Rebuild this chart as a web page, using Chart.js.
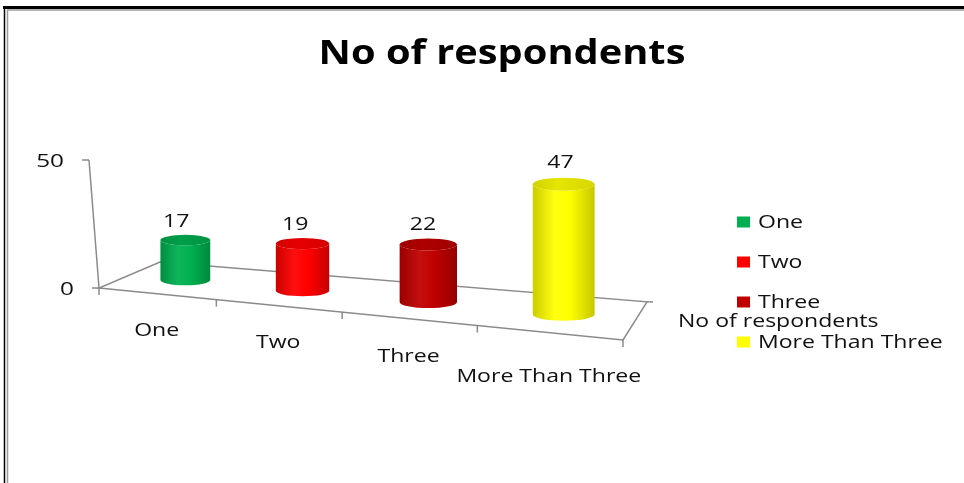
<!DOCTYPE html>
<html>
<head>
<meta charset="utf-8">
<script src="https://cdn.jsdelivr.net/npm/chart.js@4/dist/chart.umd.min.js"></script>
<style>
  html, body { margin: 0; padding: 0; background: #fff; }
  canvas { display: block; }
</style>
</head>
<body>
<canvas id="chart" width="964" height="483"></canvas>
<script>
// chart data
var categories = ['One', 'Two', 'Three', 'More Than Three'];
var respondents = [17, 19, 22, 47];
var barColors = ['#00B050', '#FF0000', '#C00000', '#FFFF00'];
var yTicks = [0, 50];
var seriesName = 'No of respondents';
var chartTitle = 'No of respondents';

// 3d look of the floor (pixels)
var FRONT_SLOPE = 0.099;
var DEPTH_LEFT = {x: 61, y: -26};
var DEPTH_RIGHT = {x: 24, y: -38};
var PERSPECTIVE = 1.155;
var AXIS_LEAN = 10;
var TEXT_STRETCH = 1.28;
var FONT = '"Open Sans", "Liberation Sans", sans-serif';
var TEXT_COLOR = '#111';
var LINE_COLOR = '#8a8a8a';

function persp(t) {
  return t / (PERSPECTIVE - (PERSPECTIVE - 1) * t);
}

function shade(hex, f) {
  var n = parseInt(hex.slice(1), 16);
  var c = [(n >> 16) & 255, (n >> 8) & 255, n & 255].map(function(v) {
    v = f <= 1 ? v * f : v + (255 - v) * (f - 1);
    return Math.max(0, Math.min(255, Math.round(v)));
  });
  return 'rgb(' + c.join(',') + ')';
}

// stretched text, y is the middle of the capitals
function label(ctx, str, x, y, size, weight, align, color, stretch) {
  ctx.save();
  ctx.font = weight + ' ' + size + 'px ' + FONT;
  ctx.fillStyle = color || TEXT_COLOR;
  ctx.textAlign = align;
  ctx.textBaseline = 'alphabetic';
  ctx.translate(x, y + size * 0.357);
  ctx.scale(stretch || TEXT_STRETCH, 1);
  ctx.fillText(str, 0, 0);
  ctx.restore();
}

function textWidth(ctx, str, size, weight) {
  ctx.save();
  ctx.font = weight + ' ' + size + 'px ' + FONT;
  var w = ctx.measureText(str).width * TEXT_STRETCH;
  ctx.restore();
  return w;
}

function line(ctx, x1, y1, x2, y2) {
  ctx.beginPath();
  ctx.moveTo(x1, y1);
  ctx.lineTo(x2, y2);
  ctx.stroke();
}

function floorGeometry(chart) {
  var a = chart.chartArea;
  var zero = chart.scales.y.getPixelForValue(0);
  var W = a.right - a.left;
  var FL = {x: a.left, y: zero};
  var FR = {x: a.right, y: zero + W * FRONT_SLOPE};
  var BL = {x: FL.x + DEPTH_LEFT.x, y: FL.y + DEPTH_LEFT.y};
  var BR = {x: FR.x + DEPTH_RIGHT.x, y: FR.y + DEPTH_RIGHT.y};
  function at(px, d) {
    var g = persp((px - a.left) / W);
    var fx = FL.x + (FR.x - FL.x) * g, fy = FL.y + (FR.y - FL.y) * g;
    var bx = BL.x + (BR.x - BL.x) * g, by = BL.y + (BR.y - BL.y) * g;
    return {x: fx + (bx - fx) * d, y: fy + (by - fy) * d, g: g};
  }
  return {FL: FL, FR: FR, BL: BL, BR: BR, at: at, zero: zero};
}

var cylinderPlugin = {
  id: 'cylinders',
  beforeDraw: function(chart) {
    var ctx = chart.ctx;
    ctx.save();
    ctx.fillStyle = '#fff';
    ctx.fillRect(0, 0, chart.width, chart.height);
    // frame
    ctx.strokeStyle = '#000';
    ctx.lineWidth = 3;
    line(ctx, 3, 7.5, chart.width, 7.5);
    ctx.lineWidth = 1.5;
    line(ctx, 4.5, 6, 4.5, chart.height);
    ctx.strokeStyle = '#9a9a9a';
    line(ctx, 7.5, 9.5, 7.5, chart.height);
    line(ctx, 7.5, 10, chart.width, 10);
    ctx.restore();
  },
  beforeDatasetsDraw: function(chart) {
    var ctx = chart.ctx;
    var xs = chart.scales.x, ys = chart.scales.y;
    var geo = floorGeometry(chart);
    var top = ys.getPixelForValue(yTicks[yTicks.length - 1]);

    ctx.save();
    ctx.strokeStyle = LINE_COLOR;
    ctx.lineWidth = 1.5;

    // floor outline
    ctx.beginPath();
    ctx.moveTo(geo.FL.x, geo.FL.y);
    ctx.lineTo(geo.FR.x, geo.FR.y);
    ctx.lineTo(geo.BR.x, geo.BR.y);
    ctx.lineTo(geo.BL.x, geo.BL.y);
    ctx.closePath();
    ctx.stroke();
    line(ctx, geo.BR.x, geo.BR.y, geo.BR.x + 6, geo.BR.y);

    // category ticks on the front edge
    var step = xs.getPixelForValue(1) - xs.getPixelForValue(0);
    for (var i = 0; i <= categories.length; i++) {
      var p = geo.at(xs.getPixelForValue(0) + (i - 0.5) * step, 0);
      line(ctx, p.x, p.y, p.x, p.y + 7);
    }

    // value axis, leaning a little
    function axisX(py) {
      return geo.FL.x - AXIS_LEAN * (geo.zero - py) / (geo.zero - top);
    }
    line(ctx, axisX(top), top, geo.FL.x, geo.zero);
    yTicks.forEach(function(v) {
      var py = ys.getPixelForValue(v);
      var ax = axisX(py);
      line(ctx, ax - 7, py, ax, py);
      label(ctx, String(v), ax - 25, py, 19, 'normal', 'right');
    });
    ctx.restore();

    // cylinders
    var meta = chart.getDatasetMeta(0);
    meta.data.forEach(function(bar, i) {
      var pr = bar.getProps(['x', 'y', 'base', 'width'], true);
      var L = geo.at(pr.x - pr.width / 2, 0.5);
      var R = geo.at(pr.x + pr.width / 2, 0.5);
      var C = geo.at(pr.x, 0.5);
      var cx = (L.x + R.x) / 2, rx = (R.x - L.x) / 2, ry = rx * 0.21;
      var by = C.y;
      var h = (pr.base - pr.y) * (0.894 + 0.219 * C.g);
      var ty = by - h;
      var color = barColors[i];

      var grad = ctx.createLinearGradient(cx - rx, 0, cx + rx, 0);
      grad.addColorStop(0, shade(color, 0.8));
      grad.addColorStop(0.35, shade(color, 1.06));
      grad.addColorStop(0.6, color);
      grad.addColorStop(1, shade(color, 0.78));

      ctx.save();
      ctx.beginPath();
      ctx.moveTo(cx - rx, ty);
      ctx.lineTo(cx - rx, by);
      ctx.ellipse(cx, by, rx, ry, 0, Math.PI, 0, true);
      ctx.lineTo(cx + rx, ty);
      ctx.ellipse(cx, ty, rx, ry, 0, 0, Math.PI, false);
      ctx.closePath();
      ctx.fillStyle = grad;
      ctx.fill();

      var tgrad = ctx.createLinearGradient(cx - rx, 0, cx + rx, 0);
      tgrad.addColorStop(0, shade(color, 0.82));
      tgrad.addColorStop(0.4, shade(color, 0.9));
      tgrad.addColorStop(1, shade(color, 0.84));
      ctx.beginPath();
      ctx.ellipse(cx, ty, rx, ry, 0, 0, Math.PI * 2);
      ctx.fillStyle = tgrad;
      ctx.fill();
      ctx.restore();

      // value label
      label(ctx, String(respondents[i]), cx - 10 + 8 * C.g, ty - 19 - 4 * C.g, 18, 'normal', 'center');
    });
    return false;
  },
  afterDraw: function(chart) {
    var ctx = chart.ctx;
    var xs = chart.scales.x;
    var geo = floorGeometry(chart);

    // title
    label(ctx, chartTitle, chart.width / 2 + 20, 52, 34, 'bold', 'center', '#000', 1.17);

    // category labels under the front edge
    categories.forEach(function(c, i) {
      var p = geo.at(xs.getPixelForValue(i), 0);
      var w = textWidth(ctx, c, 18, 'normal');
      label(ctx, c, p.x, p.y + 33.5 + FRONT_SLOPE * w / 2, 18, 'normal', 'center');
    });

    // series name beside the depth axis
    var mx = (geo.FR.x + geo.BR.x) / 2, my = (geo.FR.y + geo.BR.y) / 2;
    label(ctx, seriesName, mx + 43, my, 18, 'normal', 'left');

    // legend
    categories.forEach(function(c, i) {
      var ly = 222 + i * 40;
      ctx.fillStyle = barColors[i];
      ctx.fillRect(737, ly - 5.5, 13, 11);
      label(ctx, c, 758, ly, 18, 'normal', 'left');
    });
  }
};

new Chart(document.getElementById('chart'), {
  type: 'bar',
  data: {
    labels: categories,
    datasets: [{
      label: seriesName,
      data: respondents,
      backgroundColor: barColors,
      categoryPercentage: 1,
      barPercentage: 0.44
    }]
  },
  options: {
    responsive: false,
    animation: false,
    layout: {padding: {left: 99, right: 341, top: 160, bottom: 195}},
    scales: {
      x: {display: false},
      y: {display: false, min: 0, max: 50}
    },
    plugins: {
      legend: {display: false},
      title: {display: false},
      tooltip: {enabled: false}
    }
  },
  plugins: [cylinderPlugin]
});
</script>
</body>
</html>
